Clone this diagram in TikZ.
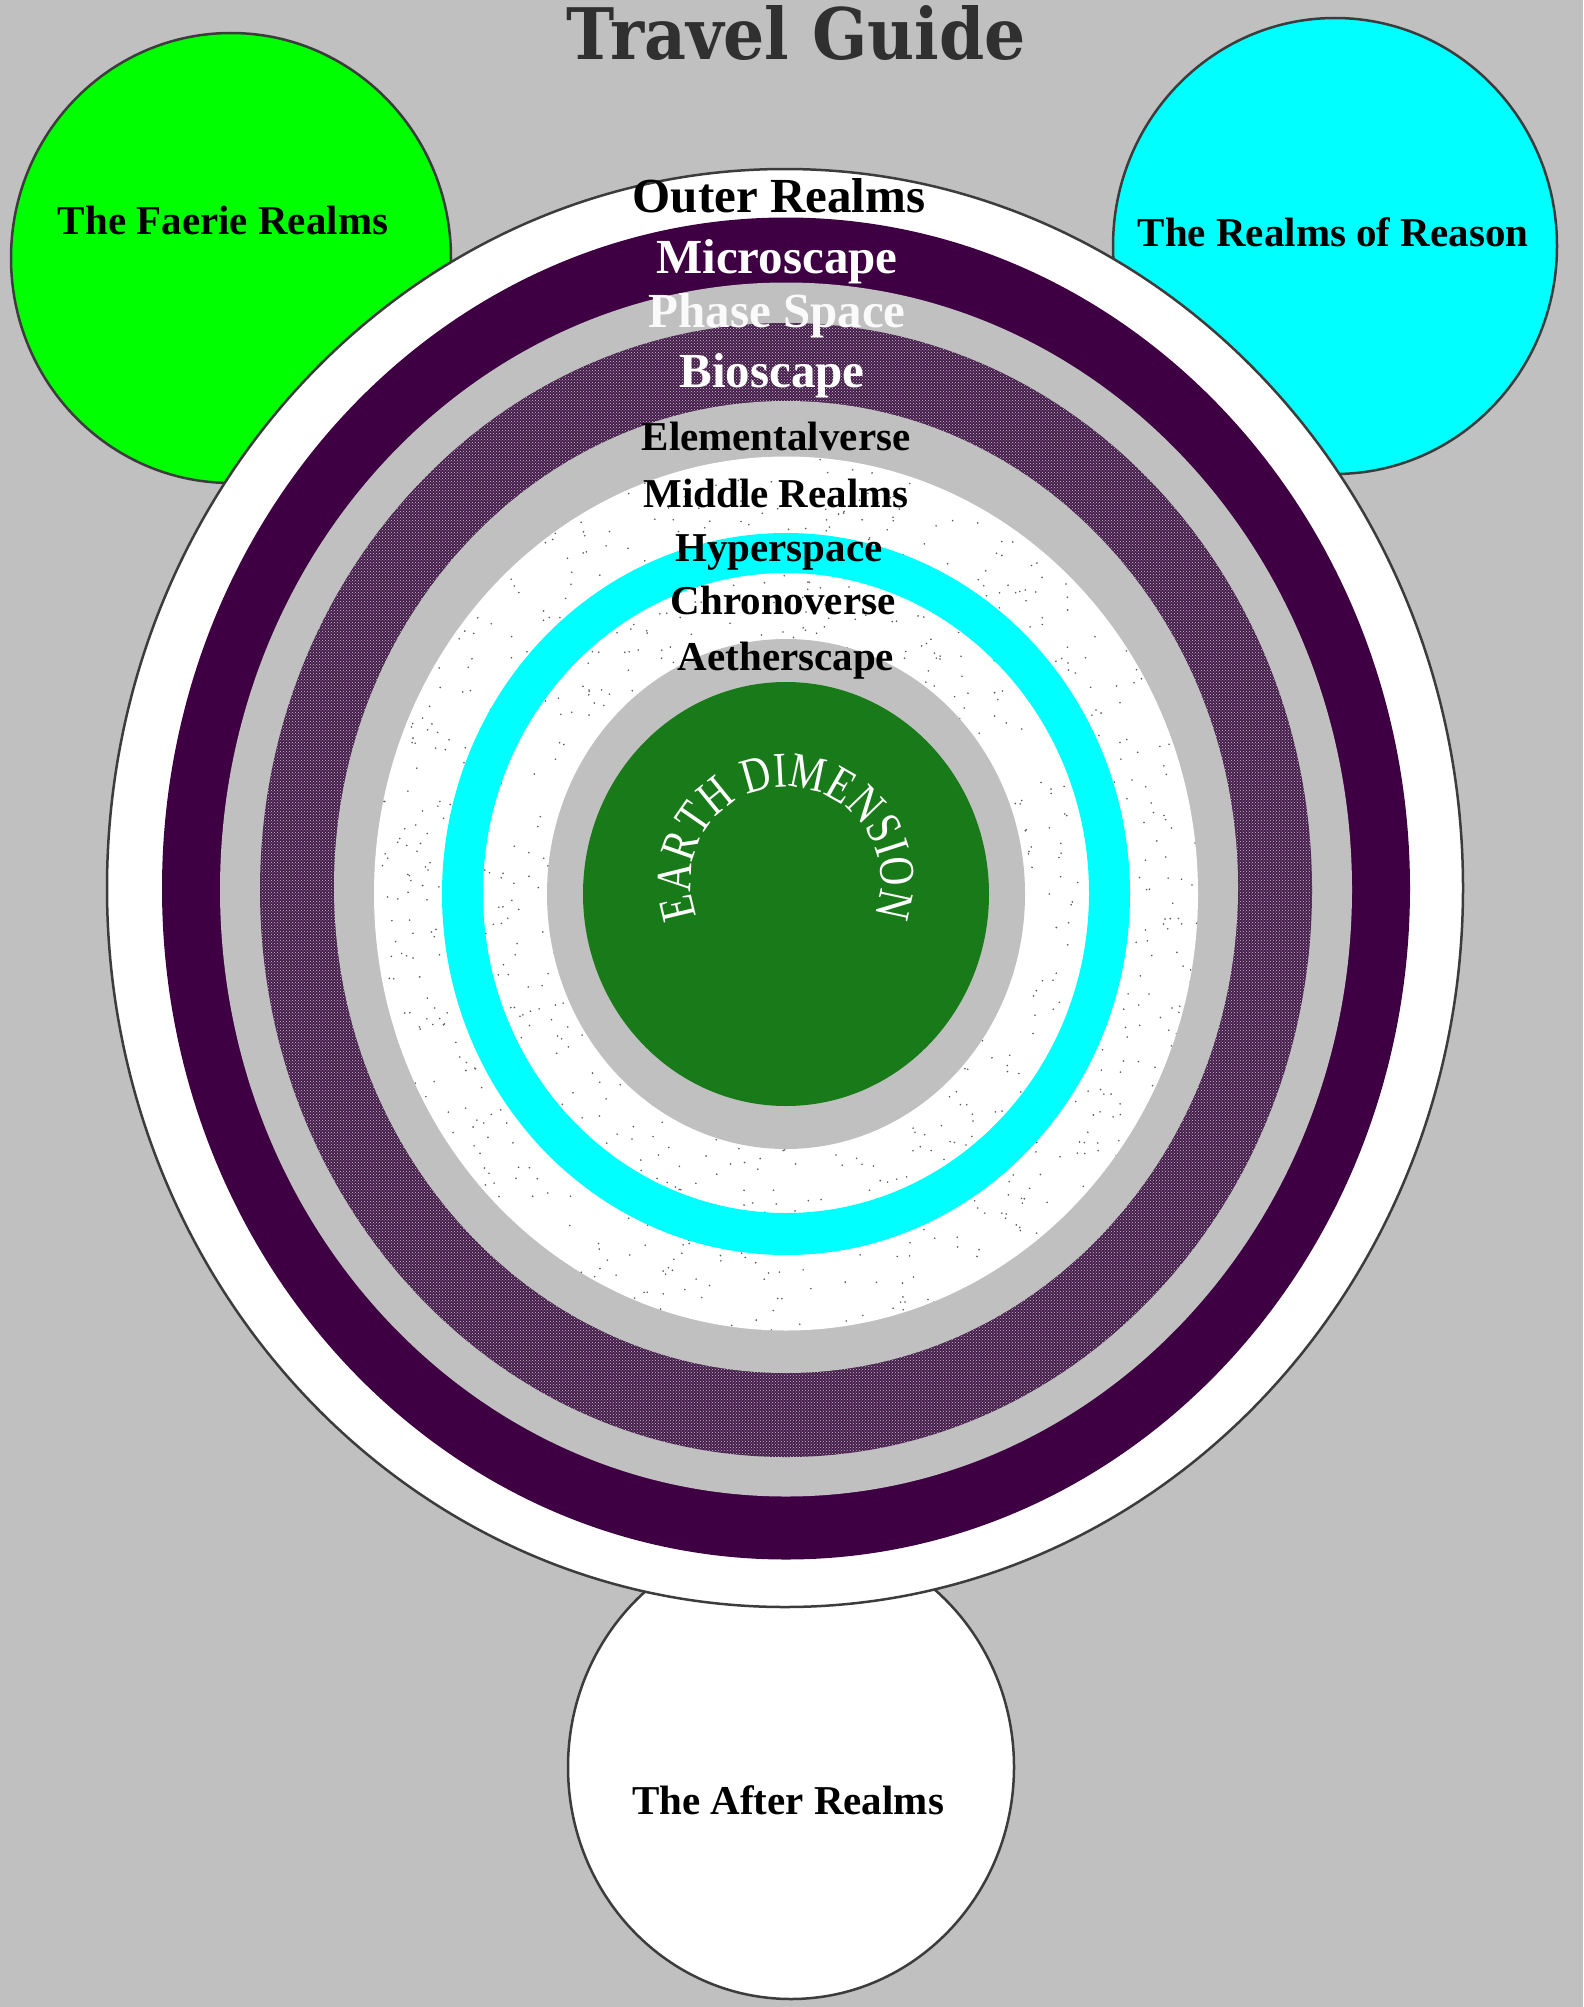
\documentclass[tikz,border=0pt]{standalone}
\usepackage{graphicx}
\usepackage{fontspec}
\setmainfont{Liberation Serif}
\newfontfamily\titlefont{DejaVu Serif}
\newfontfamily\earthfont[FakeStretch=0.8]{Liberation Serif}
\usetikzlibrary{decorations.text,patterns}
\definecolor{bg}{RGB}{192,192,192}
\definecolor{faerie}{RGB}{0,255,0}
\definecolor{reason}{RGB}{0,255,255}
\definecolor{earth}{RGB}{24,122,24}
\definecolor{deeppurple}{RGB}{62,0,66}
\definecolor{dotpurple}{RGB}{70,28,76}
\definecolor{outline}{RGB}{60,60,60}
\definecolor{titlegray}{RGB}{48,48,48}
\begin{document}
\begin{tikzpicture}[x=1pt,y=1pt,
  biglab/.style={anchor=base, inner sep=0pt, font=\fontsize{49}{49}\selectfont\bfseries},
  smalllab/.style={anchor=base, inner sep=0pt, font=\fontsize{41}{41}\selectfont\bfseries},
  rim/.style={draw=outline, line width=2.5pt}]
\fill[bg] (0,0) rectangle (1583,-2007);
\useasboundingbox (0,0) rectangle (1583,-2007);

% side realms
\filldraw[fill=faerie, rim] (231,-258) ellipse [x radius=220, y radius=225];
\filldraw[fill=reason, rim] (1335,-246) ellipse [x radius=222, y radius=228];
\filldraw[fill=white, rim] (791,-1767) ellipse [x radius=223, y radius=232];

% main disc
\filldraw[fill=white, rim] (785,-888) ellipse [x radius=678, y radius=719];
\fill[deeppurple] (786,-888.5) ellipse [x radius=624, y radius=671];
\fill[bg] (786,-889.5) ellipse [x radius=566, y radius=607];
\fill[dotpurple] (786,-890) ellipse [x radius=526, y radius=567];
\fill[pattern=crosshatch dots, pattern color=gray!45] (786,-890) ellipse [x radius=526, y radius=567];
\fill[bg] (786,-887) ellipse [x radius=452, y radius=486];
\fill[white] (786,-893.5) ellipse [x radius=412, y radius=437];
\begin{scope}
  \clip (786,-893.5) ellipse [x radius=412, y radius=437];
  \pgfmathsetseed{42}
  \foreach \i in {1,...,1800}{
    \fill[black!65] (786+412*rand, -893.5+437*rand) circle (0.9);
  }
\end{scope}
\fill[reason, even odd rule] (786,-894) ellipse [x radius=344, y radius=361]
  (786,-893) ellipse [x radius=303, y radius=320];
\fill[bg] (786,-894) ellipse [x radius=239, y radius=255];
\fill[earth] (786,-894) ellipse [x radius=203, y radius=212];

% curved label
\path[decorate, decoration={text along path, text align=center,
   text={|\earthfont\fontsize{50}{50}\selectfont\color{white}|EARTH DIMENSION}}]
  (786,-882) ++(212:95) arc[start angle=212, end angle=-32, radius=95];

% title
\node[anchor=base, inner sep=0pt, text=titlegray] (title) at (796,-60)
  {\resizebox{459pt}{54pt}{\titlefont\bfseries Travel Guide}};

% realm labels
\node[biglab] (outer) at (779,-212) {Outer Realms};
\node[biglab, text=white] (micro) at (777,-273) {Microscape};
\node[biglab, text=white!96!gray] (phase) at (777,-327) {Phase Space};
\node[biglab, text=white] (bio) at (772,-387) {Bioscape};
\node[smalllab] (elem) at (776,-450) {Elementalverse};
\node[smalllab] (middle) at (776,-507) {Middle Realms};
\node[smalllab] (hyper) at (779,-561) {Hyperspace};
\node[smalllab] (chrono) at (783,-614) {Chronoverse};
\node[smalllab] (aether) at (786,-670) {Aetherscape};
\node[smalllab] (faerieL) at (223,-234) {The Faerie Realms};
\node[smalllab] (reasonL) at (1333,-246) {The Realms of Reason};
\node[smalllab] (afterL) at (788,-1814) {The After Realms};
\end{tikzpicture}
\end{document}
